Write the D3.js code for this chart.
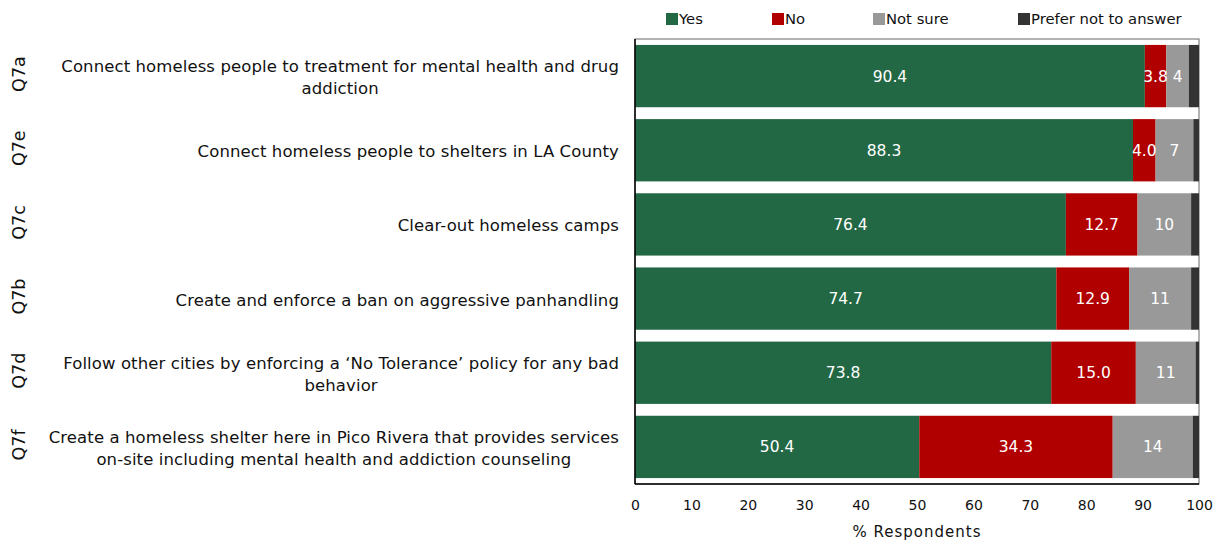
<!DOCTYPE html>
<html>
<head>
<meta charset="utf-8">
<script src="https://cdn.jsdelivr.net/npm/d3@7"></script>
<style>
  html, body { margin: 0; padding: 0; background: #fff; }
  svg { display: block; font-family: "DejaVu Sans", sans-serif; }
</style>
</head>
<body>
<svg id="chart" width="1214" height="542"></svg>
<script>
// Question codes, top to bottom
const codes = ["Q7a", "Q7e", "Q7c", "Q7b", "Q7d", "Q7f"];
// Question wording, with manual line breaks
const questions = [
  "Connect homeless people to treatment for mental health and drug\naddiction",
  "Connect homeless people to shelters in LA County",
  "Clear-out homeless camps",
  "Create and enforce a ban on aggressive panhandling",
  "Follow other cities by enforcing a \u2018No Tolerance\u2019 policy for any bad\nbehavior",
  "Create a homeless shelter here in Pico Rivera that provides services\non-site including mental health and addiction counseling"
];
// Response shares (%) per question
const yesValues      = [90.4, 88.3, 76.4, 74.7, 73.8, 50.4];
const noValues       = [3.8, 4.0, 12.7, 12.9, 15.0, 34.3];
const notSureValues  = [4.0, 6.7, 9.5, 11.0, 10.6, 14.2];
const preferValues   = [1.8, 1.0, 1.4, 1.4, 0.6, 1.1];

const seriesNames  = ["Yes", "No", "Not sure", "Prefer not to answer"];
const seriesColors = ["#236845", "#b10000", "#999999", "#333333"];
const xTicks = [0, 10, 20, 30, 40, 50, 60, 70, 80, 90, 100];
const xTitle = "% Respondents";

const rows = codes.map((c, i) => ({
  code: c, label: questions[i],
  "Yes": yesValues[i], "No": noValues[i],
  "Not sure": notSureValues[i], "Prefer not to answer": preferValues[i]
}));

const svg = d3.select("#chart");
const plot = { left: 635, right: 1199, top: 39, bottom: 484 };

const x = d3.scaleLinear().domain([0, 100]).range([plot.left, plot.right]);
const y = d3.scaleBand().domain(codes).range([plot.top, plot.bottom]).paddingInner(0.16).paddingOuter(0.08);
const color = d3.scaleOrdinal().domain(seriesNames).range(seriesColors);

const stacked = d3.stack().keys(seriesNames)(rows);

// Plot frame
svg.append("rect")
  .attr("x", plot.left).attr("y", plot.top)
  .attr("width", plot.right - plot.left).attr("height", plot.bottom - plot.top)
  .attr("fill", "none").attr("stroke", "#666").attr("stroke-width", 1);

// Stacked bars
const layers = svg.append("g").selectAll("g").data(stacked).join("g")
  .attr("fill", d => color(d.key));
layers.selectAll("rect").data(d => d).join("rect")
  .attr("x", d => x(d[0]))
  .attr("y", d => y(d.data.code))
  .attr("width", d => x(d[1]) - x(d[0]))
  .attr("height", y.bandwidth());

// Left and bottom axis lines
svg.append("line")
  .attr("x1", plot.left).attr("x2", plot.left)
  .attr("y1", plot.top).attr("y2", plot.bottom)
  .attr("stroke", "#000").attr("stroke-width", 1.5);
svg.append("line")
  .attr("x1", plot.left).attr("x2", plot.right)
  .attr("y1", plot.bottom).attr("y2", plot.bottom)
  .attr("stroke", "#000").attr("stroke-width", 1.5);

// Value labels (Yes/No with one decimal, Not sure rounded)
const fmt1 = d3.format(".1f"), fmt0 = d3.format(".0f");
stacked.slice(0, 3).forEach((layer, li) => {
  svg.append("g").selectAll("text").data(layer).join("text")
    .attr("x", d => (x(d[0]) + x(d[1])) / 2)
    .attr("y", d => y(d.data.code) + y.bandwidth() / 2)
    .attr("dy", "0.36em")
    .attr("text-anchor", "middle")
    .attr("fill", "#fff")
    .attr("font-size", 15.5)
    .text(d => li === 2 ? fmt0(d[1] - d[0]) : fmt1(d[1] - d[0]));
});

// X axis
const xAxis = svg.append("g")
  .attr("transform", `translate(0,${plot.bottom})`)
  .call(d3.axisBottom(x).tickValues(xTicks).tickSize(0).tickPadding(16).tickFormat(d3.format("d")));
xAxis.select(".domain").remove();
xAxis.selectAll("text").attr("font-size", 14).attr("fill", "#111")
  .attr("font-family", "DejaVu Sans, sans-serif");

svg.append("text")
  .attr("x", (plot.left + plot.right) / 2).attr("y", 537)
  .attr("text-anchor", "middle").attr("font-size", 15).attr("fill", "#111")
  .attr("letter-spacing", 1)
  .text(xTitle);

// Question text: right-aligned block, lines centred within it
const labelRight = 619, lineH = 22;
rows.forEach(r => {
  const lines = r.label.split("\n");
  const g = svg.append("g");
  const cy = y(r.code) + y.bandwidth() / 2 + 1;
  const t = g.selectAll("text").data(lines).join("text")
    .attr("font-size", 16.5).attr("fill", "#111")
    .attr("letter-spacing", 0.1)
    .attr("text-anchor", "middle")
    .attr("dy", "0.36em")
    .text(d => d);
  const maxW = d3.max(t.nodes(), n => n.getComputedTextLength());
  t.attr("x", labelRight - maxW / 2)
   .attr("y", (d, i) => cy + (i - (lines.length - 1) / 2) * lineH);
});

// Question codes, rotated
svg.append("g").selectAll("text").data(codes).join("text")
  .attr("transform", d => `translate(19,${y(d) + y.bandwidth() / 2 - 2}) rotate(-90)`)
  .attr("text-anchor", "middle").attr("dy", "0.36em")
  .attr("font-size", 17.5).attr("fill", "#111")
  .text(d => d);

// Legend
const legendX = [666, 772, 873, 1018];
const legend = svg.append("g").selectAll("g").data(seriesNames).join("g")
  .attr("transform", (d, i) => `translate(${legendX[i]},13)`);
legend.append("rect").attr("width", 12).attr("height", 12).attr("fill", d => color(d));
legend.append("text").attr("x", 13).attr("y", 6).attr("dy", "0.36em")
  .attr("font-size", 14.8).attr("fill", "#111").text(d => d);
</script>
</body>
</html>
